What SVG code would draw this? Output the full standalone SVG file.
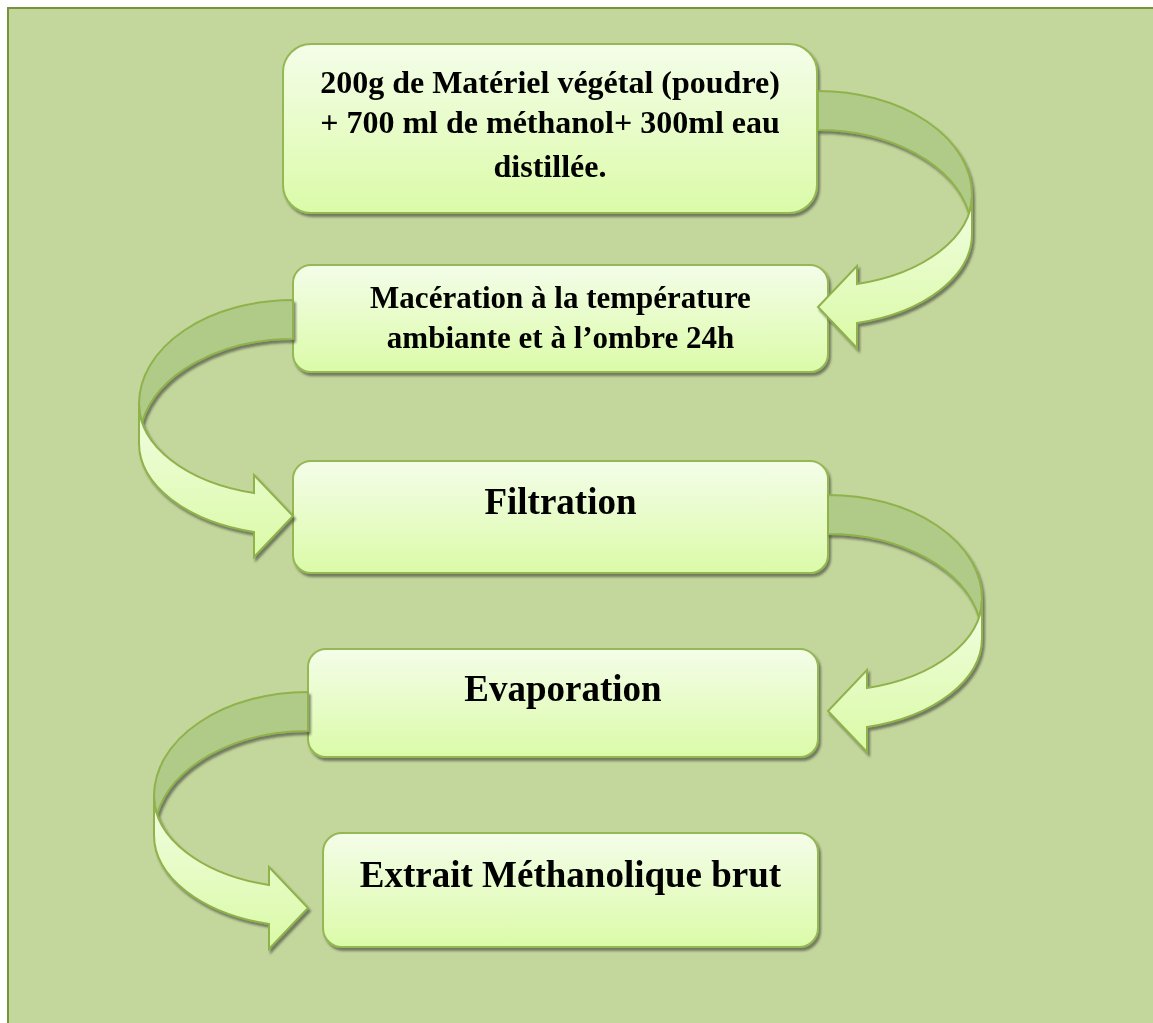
<svg xmlns="http://www.w3.org/2000/svg" xmlns:xlink="http://www.w3.org/1999/xlink" width="1153" height="1023" viewBox="0 0 1153 1023">
<style>
.box{fill:url(#boxGrad);stroke:#94b853;stroke-width:2}
.t{font-family:"Liberation Serif","Times New Roman",serif;font-weight:bold;fill:#000;text-anchor:middle}
.back{fill:#b0cb88;stroke:#8fb24b;stroke-width:2;stroke-linejoin:round}
.front{fill:url(#frontGrad);stroke:#8fb24b;stroke-width:2;stroke-linejoin:miter}
</style>
<defs>
<linearGradient id="boxGrad" x1="0" y1="0" x2="0" y2="1">
<stop offset="0" stop-color="#f4fde9"/>
<stop offset="1" stop-color="#dbfba8"/>
</linearGradient>
<linearGradient id="frontGrad" x1="0" y1="0" x2="0" y2="1">
<stop offset="0" stop-color="#f1fde2"/>
<stop offset="1" stop-color="#dafaa6"/>
</linearGradient>
<filter id="shadow" x="-10%" y="-10%" width="130%" height="130%">
<feDropShadow dx="2" dy="3" stdDeviation="1" flood-color="#333" flood-opacity="0.55"/>
</filter>
<g id="uarrow">
<path class="back" d="M0,0 A154,104 0 0 1 154,104 A154,92 0 0 1 150.92,122.31 A154,104 0 0 0 0,39 Z"/>
<path class="front" d="M154,104 A154,92 0 0 1 39,193 L39,175 L0,216 L39,257 L39,232 A154,92 0 0 0 154,143 Z"/>
</g>
</defs>
<rect x="0" y="0" width="1153" height="1023" fill="#ffffff"/>
<rect x="8" y="8" width="1170" height="1040" fill="#c3d69b" stroke="#76923c" stroke-width="2"/>

<g id="node1" filter="url(#shadow)">
<rect class="box" x="283" y="44" width="534" height="169" rx="28"/>
<text class="t" font-size="32" x="550" y="93">200g de Matériel végétal (poudre)</text>
<text class="t" font-size="32" x="550" y="133">+ 700 ml de méthanol+ 300ml eau</text>
<text class="t" font-size="32" x="550" y="177">distillée.</text>
</g>
<g id="node2" filter="url(#shadow)">
<rect class="box" x="293" y="265" width="535" height="107" rx="18"/>
<text class="t" font-size="31" x="560.5" y="308">Macération à la température</text>
<text class="t" font-size="31" x="560.5" y="348">ambiante et à l’ombre 24h</text>
</g>
<g id="node3" filter="url(#shadow)">
<rect class="box" x="293" y="461" width="535" height="112" rx="18"/>
<text class="t" font-size="37" x="560.5" y="514">Filtration</text>
</g>
<g id="node4" filter="url(#shadow)">
<rect class="box" x="308" y="649" width="510" height="108" rx="18"/>
<text class="t" font-size="37" x="563" y="701">Evaporation</text>
</g>
<g id="node5" filter="url(#shadow)">
<rect class="box" x="323" y="833" width="495" height="114" rx="19"/>
<text class="t" font-size="37" x="570.5" y="887">Extrait Méthanolique brut</text>
</g>

<g id="connectors">
<g filter="url(#shadow)"><use xlink:href="#uarrow" href="#uarrow" transform="translate(818,91)"/></g>
<g filter="url(#shadow)"><use xlink:href="#uarrow" href="#uarrow" transform="translate(293,300) scale(-1,1)"/></g>
<g filter="url(#shadow)"><use xlink:href="#uarrow" href="#uarrow" transform="translate(828,495)"/></g>
<g filter="url(#shadow)"><use xlink:href="#uarrow" href="#uarrow" transform="translate(308,692) scale(-1,1)"/></g>
</g>
</svg>
